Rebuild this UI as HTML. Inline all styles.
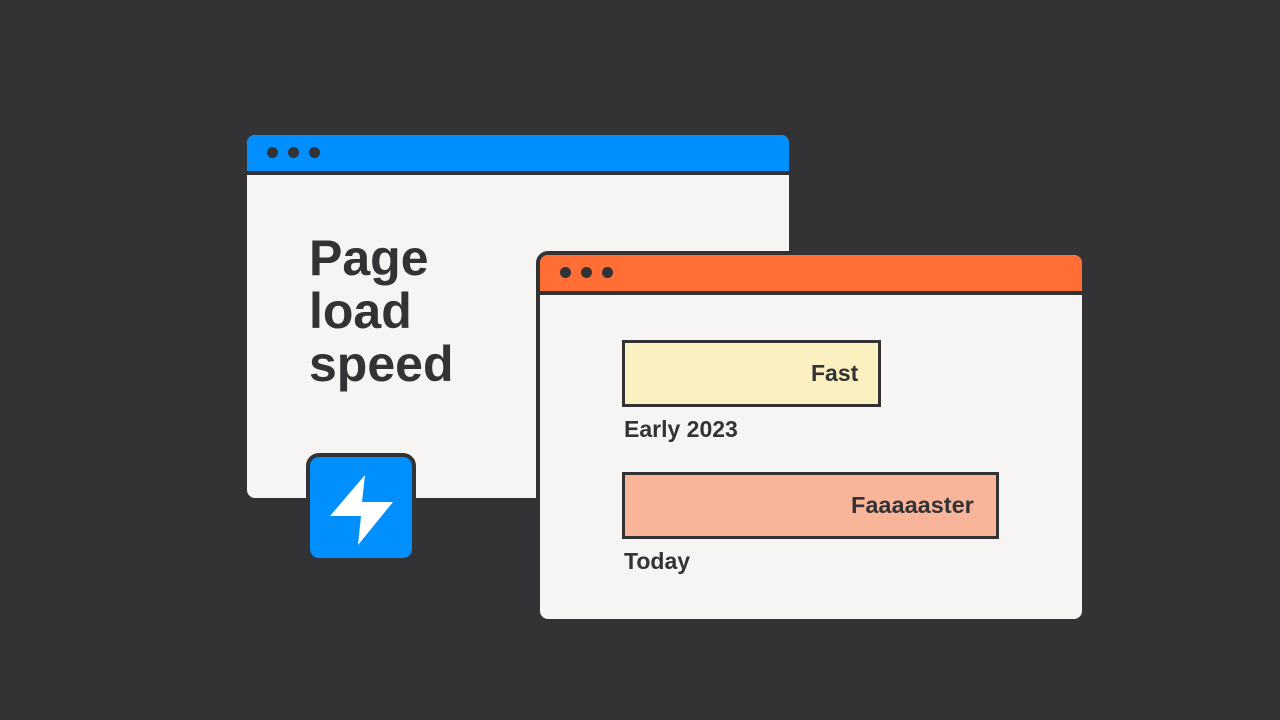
<!DOCTYPE html>
<html><head><style>
*{margin:0;padding:0;box-sizing:border-box}
body{width:1280px;height:720px;background:#333335;position:relative;overflow:hidden;font-family:"Liberation Sans",sans-serif;font-weight:bold;color:#333335}
.win{position:absolute;border:4px solid #333335;border-radius:12px;background:#f6f5f3;overflow:hidden}
.bar{position:absolute;left:0;right:0;top:0;border-bottom:4px solid #333335}
.dot{position:absolute;width:11px;height:11px;border-radius:50%;background:#333335}
.t{position:absolute;white-space:nowrap}
.b{position:absolute;border:3px solid #333335}
</style></head><body>
<div class="win" style="left:243px;top:131px;width:550px;height:371px">
 <div class="bar" style="height:40px;background:#008ffd"></div>
 <div class="dot" style="left:20px;top:12px"></div><div class="dot" style="left:41px;top:12px"></div><div class="dot" style="left:62px;top:12px"></div>
 <div class="t" style="left:62px;top:97px;font-size:50px;line-height:53px;letter-spacing:0px">Page<br>load<br>speed</div>
</div>
<div style="position:absolute;left:306px;top:453px;width:110px;height:109px;border:4px solid #333335;border-radius:13px;background:#008ffd">
<svg width="110" height="109" style="position:absolute;left:-4px;top:-4px"><polygon points="59,22 24,63 55,63 52,92 87,49 56,49" fill="#fff"/></svg>
</div>
<div class="win" style="left:536px;top:251px;width:550px;height:372px">
 <div class="bar" style="height:40px;background:#ff6e35"></div>
 <div class="dot" style="left:20px;top:12px"></div><div class="dot" style="left:41px;top:12px"></div><div class="dot" style="left:62px;top:12px"></div>
</div>
<div class="b" style="left:622px;top:340px;width:259px;height:67px;background:#fbf0bf"></div>
<div class="t" style="left:811px;top:360px;font-size:23px">Fast</div>
<div class="t" style="left:624px;top:416px;font-size:23px">Early 2023</div>
<div class="b" style="left:622px;top:472px;width:377px;height:67px;background:#f9b59a"></div>
<div class="t" style="left:851px;top:492px;font-size:23.5px">Faaaaaster</div>
<div class="t" style="left:624px;top:548px;font-size:23px">Today</div>
</body></html>
